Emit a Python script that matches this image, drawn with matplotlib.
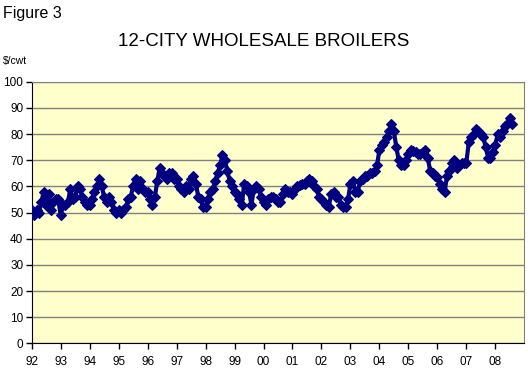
import matplotlib
matplotlib.use('Agg')
import matplotlib.pyplot as plt
import numpy as np

plt.rcParams['font.family'] = ['Liberation Sans', 'DejaVu Sans']

# monthly 12-city wholesale broiler price, $/cwt, Jan 1992 onward
prices = [
    51, 49, 51, 50, 54, 58, 53, 57, 51, 54, 55, 55,   # 1992
    49, 53, 53, 54, 59, 55, 56, 60, 59, 56, 54, 53,   # 1993
    53, 55, 58, 60, 63, 60, 56, 54, 56, 54, 51, 50,   # 1994
    51, 50, 51, 52, 55, 56, 60, 63, 59, 62, 59, 58,   # 1995
    58, 55, 53, 56, 62, 67, 65, 64, 63, 65, 65, 63,   # 1996
    63, 60, 59, 58, 60, 59, 63, 64, 61, 56, 55, 52,   # 1997
    52, 55, 58, 59, 62, 65, 68, 72, 70, 66, 62, 60,   # 1998
    58, 57, 55, 53, 61, 60, 58, 53, 59, 60, 59, 56,   # 1999
    54, 53, 55, 56, 56, 55, 54, 54, 57, 59, 58, 58,   # 2000
    57, 59, 60, 60.5, 61, 61, 62, 63, 62, 60, 59, 56, # 2001
    55, 54, 53, 52, 57, 58, 56, 56, 53, 52, 52, 55,   # 2002
    61, 62, 58, 58, 62, 63, 64, 64, 65, 65, 66, 68,   # 2003
    74, 76, 77, 79, 81, 84, 81, 75, 70, 68, 68, 70,   # 2004
    72.5, 74, 73.5, 73, 72.5, 72.5, 73, 74, 71, 66, 65, 64,  # 2005
    63.5, 61, 59, 58, 64, 66, 69, 70, 67, 68, 69, 69, # 2006
    69, 77, 79, 80, 82, 81, 80, 79, 75, 71, 71, 73,   # 2007
    76, 80, 79, 81, 83, 84, 86, 84,                   # 2008
]
start_year = 1992
years = list(range(1992, 2009))
year_labels = ['%02d' % (y % 100) for y in years]

t = start_year + np.arange(len(prices)) / 12.0

fig = plt.figure(figsize=(5.28, 3.70), dpi=100)
ax = fig.add_axes([0.060, 0.072, 0.933, 0.707])
ax.set_facecolor('#FFFFCC')

ax.plot(t, prices, color='#000080', linewidth=3.0, marker='D', markersize=5,
        markeredgewidth=0.8, markeredgecolor='#000080', zorder=3)

ax.set_xlim(1992, 2009)
ax.set_ylim(0, 100)
ax.set_yticks(np.arange(0, 101, 10))
ax.set_xticks(years)
ax.set_xticklabels(year_labels)
ax.yaxis.grid(True, color='#808080', linewidth=1)
ax.set_axisbelow(True)

ax.tick_params(axis='both', labelsize=8.5, length=4, width=1, colors='black', pad=2)
ax.tick_params(axis='x', pad=5)
for s in ['top', 'right']:
    ax.spines[s].set_color('#808080')
for s in ['left', 'bottom']:
    ax.spines[s].set_color('black')

fig.text(0.006, 0.963, 'Figure 3', fontsize=11.5, ha='left', va='center')
fig.text(0.50, 0.888, '12-CITY WHOLESALE BROILERS', fontsize=13.5, ha='center', va='center')
fig.text(0.006, 0.835, '$/cwt', fontsize=7.5, ha='left', va='center')

plt.savefig('out.png', dpi=100, facecolor='white')
